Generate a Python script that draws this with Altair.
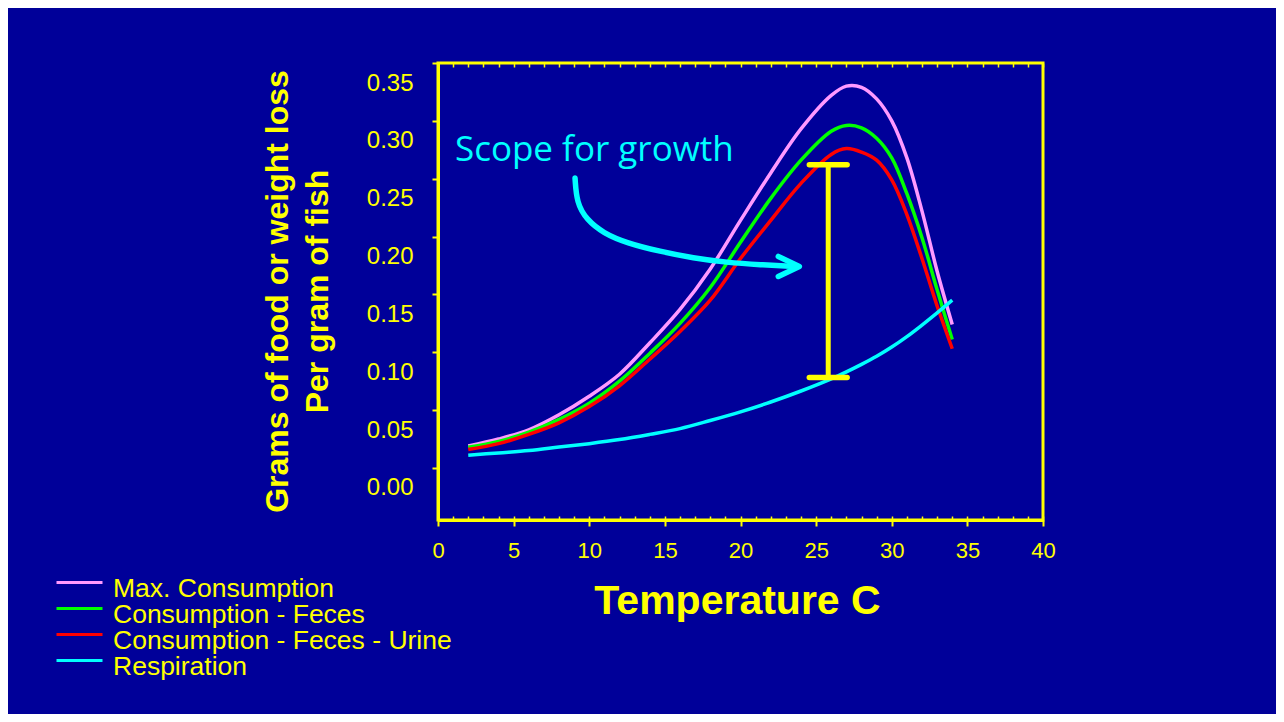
import altair as alt
import pandas as pd

YELLOW = "#FFFF00"
BG = "#000099"
CYAN = "#00FFFF"

# ---- data ----
temps = [2, 4, 6, 8, 10, 12, 14, 16, 18, 20, 22, 24, 26, 27, 28, 29, 30, 31, 32, 33, 34]
max_consumption = [0.019, 0.025, 0.033, 0.046, 0.062, 0.081, 0.108, 0.137, 0.172, 0.214, 0.255,
                   0.293, 0.322, 0.330, 0.329, 0.319, 0.300, 0.268, 0.222, 0.170, 0.124]
consumption_feces = [0.018, 0.023, 0.031, 0.042, 0.056, 0.075, 0.099, 0.125, 0.156, 0.195, 0.233,
                     0.266, 0.291, 0.296, 0.294, 0.285, 0.268, 0.237, 0.199, 0.154, 0.111]
consumption_feces_urine = [0.016, 0.021, 0.029, 0.039, 0.053, 0.071, 0.094, 0.118, 0.145, 0.181, 0.214,
                           0.246, 0.271, 0.276, 0.273, 0.266, 0.249, 0.219, 0.181, 0.140, 0.103]
respiration = [0.011, 0.013, 0.015, 0.018, 0.021, 0.0245, 0.029, 0.034, 0.041, 0.0485, 0.057,
               0.0665, 0.077, 0.083, 0.0895, 0.0965, 0.1045, 0.1135, 0.1235, 0.134, 0.145]

series_names = ["Max. Consumption", "Consumption - Feces", "Consumption - Feces - Urine", "Respiration"]
series_colors = ["#FF99FF", "#00FF00", "#FF0000", "#00FFFF"]

x_tick_values = [0, 5, 10, 15, 20, 25, 30, 35, 40]
x_minor_values = list(range(0, 41))
y_tick_values = [0.0, 0.05, 0.10, 0.15, 0.20, 0.25, 0.30, 0.35]

# annotation: "Scope for growth" label, arrow and bracket (data units)
scope_label = ["Scope for growth"]
scope_label_T = [1.12]
scope_label_v = [0.265]
arrow_T = [9.06, 9.17, 9.83, 10.93, 12.48, 14.68, 16.88, 19.09, 21.29, 23.67]
arrow_v = [0.2506, 0.2290, 0.2145, 0.2030, 0.1944, 0.1871, 0.1814, 0.1776, 0.1756, 0.1741]
arrowhead_T = [22.50, 23.89, 22.50]
arrowhead_v = [0.1828, 0.1741, 0.1655]
bracket_T = [25.8]
bracket_top = [0.2621]
bracket_bottom = [0.0781]
bracket_cap_left = [24.55, 24.55]
bracket_cap_right = [27.05, 27.05]
bracket_cap_v = [0.2621, 0.0781]

# ---- tables ----
rows = []
for name, vals in zip(series_names, [max_consumption, consumption_feces, consumption_feces_urine, respiration]):
    for t, v in zip(temps, vals):
        rows.append({"T": t, "v": v, "series": name})
df = pd.DataFrame(rows)

xscale = alt.Scale(domain=[0, 40], nice=False, zero=False)
yscale = alt.Scale(domain=[-0.045, 0.35], nice=False, zero=False)

x_axis_main = alt.Axis(
    orient="bottom", values=x_tick_values, tickSize=6, tickWidth=2, tickColor=YELLOW,
    domain=True, domainColor=YELLOW, domainWidth=3, grid=False,
    labelColor=YELLOW, labelFontSize=22, labelPadding=14, labelFlush=False,
    title="Temperature C", titleColor=YELLOW, titleFontSize=41, titleFontWeight="bold",
    titleX=299, titleY=93, titleBaseline="alphabetic", titleAlign="center",
)
y_axis = alt.Axis(
    orient="left", values=y_tick_values, format=".2f", tickSize=6, tickWidth=2, tickColor=YELLOW,
    domain=True, domainColor=YELLOW, domainWidth=3, grid=False,
    labelColor=YELLOW, labelFontSize=24, labelPadding=19, labelOffset=20, labelFlush=False,
    labelAlign="right", labelBaseline="middle",
    title=["Grams of food or weight loss", "Per gram of fish"], titleColor=YELLOW,
    titleFontSize=32, titleFontWeight="bold", titleAngle=270, titleX=-161, titleY=228,
    titleAlign="center", titleBaseline="middle", titleLineHeight=40,
)
legend = alt.Legend(
    orient="none", legendX=-383, legendY=514, direction="vertical", title=None,
    symbolType="M-1,-0.3L1,-0.3", symbolSize=2116, symbolStrokeWidth=3,
    labelFontSize=26.5, labelColor=YELLOW, labelOffset=9, labelLimit=0,
    clipHeight=24.8, rowPadding=-3.2, padding=0,
)

curves = alt.Chart(df).mark_line(strokeWidth=3.5, interpolate="catmull-rom").encode(
    x=alt.X("T:Q", scale=xscale, axis=x_axis_main),
    y=alt.Y("v:Q", scale=yscale, axis=y_axis),
    color=alt.Color("series:N", scale=alt.Scale(domain=series_names, range=series_colors), legend=legend),
)

minor_df = pd.DataFrame({"T": x_minor_values})
top_minor = alt.Chart(minor_df).mark_point(opacity=0).encode(
    x=alt.X("T:Q", scale=xscale, axis=alt.Axis(
        orient="top", values=x_minor_values, labels=False, domain=False, grid=False,
        ticks=True, tickSize=4, tickWidth=1.5, tickColor=YELLOW, offset=-4, title=None)),
)
bottom_minor = alt.Chart(minor_df).mark_point(opacity=0).encode(
    x=alt.X("T:Q", scale=xscale, axis=alt.Axis(
        orient="bottom", values=x_minor_values, labels=False, domain=False, grid=False,
        ticks=True, tickSize=4, tickWidth=1.5, tickColor=YELLOW, offset=-4, title=None)),
)

label_df = pd.DataFrame({"T": scope_label_T, "v": scope_label_v, "label": scope_label})
scope_text = alt.Chart(label_df).mark_text(
    align="left", baseline="alphabetic", font="Open Sans", fontSize=35, color=CYAN
).encode(
    x=alt.X("T:Q", scale=xscale, axis=None),
    y=alt.Y("v:Q", scale=yscale, axis=None),
    text="label:N",
)

arrow_df = pd.DataFrame({"T": arrow_T, "v": arrow_v, "i": list(range(len(arrow_T)))})
arrow = alt.Chart(arrow_df).mark_line(
    color=CYAN, strokeWidth=5.5, strokeCap="round", interpolate="basis"
).encode(
    x=alt.X("T:Q", scale=xscale, axis=None),
    y=alt.Y("v:Q", scale=yscale, axis=None),
    order="i:Q",
)
head_df = pd.DataFrame({"T": arrowhead_T, "v": arrowhead_v, "i": [0, 1, 2]})
arrowhead = alt.Chart(head_df).mark_line(
    color=CYAN, strokeWidth=5.5, strokeCap="round", strokeJoin="round"
).encode(
    x=alt.X("T:Q", scale=xscale, axis=None),
    y=alt.Y("v:Q", scale=yscale, axis=None),
    order="i:Q",
)

bracket_df = pd.DataFrame({"T": bracket_T, "top": bracket_top, "bottom": bracket_bottom})
bracket = alt.Chart(bracket_df).mark_rule(color=YELLOW, strokeWidth=5).encode(
    x=alt.X("T:Q", scale=xscale, axis=None),
    y=alt.Y("bottom:Q", scale=yscale, axis=None),
    y2="top:Q",
)
caps_df = pd.DataFrame({"T1": bracket_cap_left, "T2": bracket_cap_right, "v": bracket_cap_v})
caps = alt.Chart(caps_df).mark_rule(color=YELLOW, strokeWidth=5.5, strokeCap="round").encode(
    x=alt.X("T1:Q", scale=xscale, axis=None),
    x2="T2:Q",
    y=alt.Y("v:Q", scale=yscale, axis=None),
)

chart = alt.layer(
    curves, top_minor, bottom_minor, bracket, caps, scope_text, arrow, arrowhead
).resolve_axis(x="independent", y="independent").properties(
    width=605, height=457,
    autosize=alt.AutoSizeParams(type="none"),
    padding={"left": 430, "top": 55, "right": 233, "bottom": 194},
    background=BG,
).configure(font="Liberation Sans").configure_view(stroke=YELLOW, strokeWidth=3)

chart.save("out.html", embed_options={"renderer": "svg", "actions": False})
